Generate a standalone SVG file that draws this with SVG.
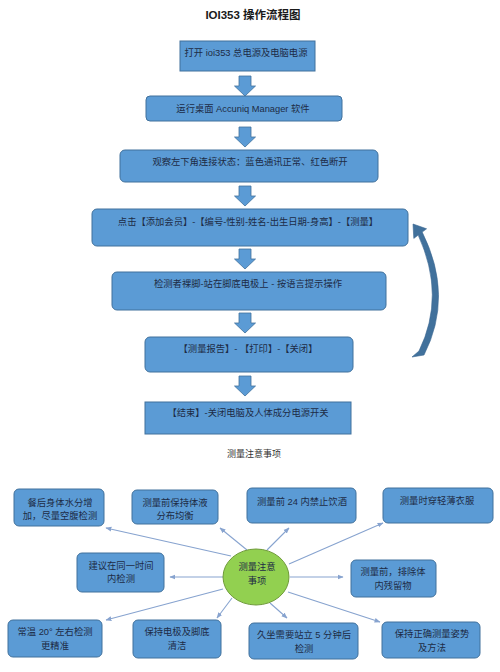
<svg xmlns="http://www.w3.org/2000/svg" width="500" height="672" viewBox="0 0 500 672">
<defs>
<style>
.box{fill:#5b9bd5;stroke:#41719c;stroke-width:1}
.t{font-family:"Liberation Sans","Noto Sans CJK SC",sans-serif;font-size:9.3px;fill:#1d2b45;text-anchor:middle}
.barrow{fill:#5b9bd5;stroke:#41719c;stroke-width:0.8}
.con{stroke:#87a3cf;stroke-width:1.1;fill:none;marker-end:url(#ah)}
</style>
<marker id="ah" viewBox="0 0 10 10" refX="9" refY="5" markerWidth="6" markerHeight="6" orient="auto" markerUnits="userSpaceOnUse">
<path d="M0,1 L10,5 L0,9 z" fill="#87a3cf"/>
</marker>
<path id="dn" d="M-6,0 H6 V10 H10.5 L0,20 L-10.5,10 H-6 Z"/>
</defs>
<rect width="500" height="672" fill="#ffffff"/>
<text x="253" y="19" style="font-family:'Liberation Sans','Noto Sans CJK SC',sans-serif;font-size:11.5px;font-weight:bold;fill:#1a1a1a" text-anchor="middle">IOI353  操作流程图</text>

<g id="flow-arrows">
<use href="#dn" class="barrow" x="245" y="76"/>
<use href="#dn" class="barrow" x="245" y="127"/>
<use href="#dn" class="barrow" x="245" y="186"/>
<use href="#dn" class="barrow" x="245" y="249"/>
<use href="#dn" class="barrow" x="245" y="313"/>
<use href="#dn" class="barrow" x="245" y="376"/>
</g>

<g id="n1"><rect class="box" x="180" y="41" width="135" height="30"/><text class="t" x="246" y="56">打开 ioi353 总电源及电脑电源</text></g>
<g id="n2"><rect class="box" x="146" y="96" width="196" height="25" rx="4"/><text class="t" x="243" y="112">运行桌面 Accuniq Manager 软件</text></g>
<g id="n3"><rect class="box" x="120" y="150" width="258" height="32" rx="5"/><text class="t" x="250" y="165">观察左下角连接状态：蓝色通讯正常、红色断开</text></g>
<g id="n4"><rect class="box" x="92" y="209" width="316" height="37" rx="5"/><text class="t" x="248" y="225">点击【添加会员】-【编号-性别-姓名-出生日期-身高】-【测量】</text></g>
<g id="n5"><rect class="box" x="112" y="272" width="274" height="38" rx="5"/><text class="t" x="248" y="287">检测者裸脚-站在脚底电极上 - 按语言提示操作</text></g>
<g id="n6"><rect class="box" x="145" y="337" width="208" height="35" rx="5"/><text class="t" x="248" y="352">【测量报告】- 【打印】-【关闭】</text></g>
<g id="n7"><rect class="box" x="145" y="402" width="206" height="32"/><text class="t" x="248" y="416">【结束】-关闭电脑及人体成分电源开关</text></g>

<g id="loop-arrow">
<path d="M412,357 L419,351 Q446,296 418.2,235.1 L413.8,238.4 L413,224 L426.6,228.8 L422.2,232.1 Q454,296 424,355 Z" fill="#41719c" stroke="#3a6690" stroke-width="0.6" stroke-linejoin="round"/>
</g>

<text x="254" y="457" style="font-family:'Liberation Sans','Noto Sans CJK SC',sans-serif;font-size:9px;fill:#333333" text-anchor="middle">测量注意事项</text>

<g id="connectors">
<line class="con" x1="231" y1="556" x2="106" y2="528"/>
<line class="con" x1="247" y1="550" x2="220" y2="528"/>
<line class="con" x1="267" y1="550" x2="289" y2="528"/>
<line class="con" x1="289" y1="564" x2="383" y2="523"/>
<line class="con" x1="223" y1="577" x2="170" y2="577"/>
<line class="con" x1="290" y1="577" x2="343" y2="577"/>
<line class="con" x1="223" y1="589" x2="106" y2="620"/>
<line class="con" x1="232" y1="598" x2="217" y2="618"/>
<line class="con" x1="270" y1="603" x2="287" y2="618"/>
<line class="con" x1="288" y1="592" x2="380" y2="622"/>
</g>

<g id="center"><ellipse cx="256" cy="577" rx="33" ry="28" fill="#92d050" stroke="#6f9a3a" stroke-width="1"/><text class="t" x="257" y="570">测量注意</text><text class="t" x="257" y="584">事项</text></g>

<g id="bA"><rect class="box" x="14" y="489" width="90" height="37" rx="5"/><text class="t" x="60" y="506">餐后身体水分增</text><text class="t" x="60" y="519">加，尽量空腹检测</text></g>
<g id="bB"><rect class="box" x="132" y="490" width="86" height="34" rx="5"/><text class="t" x="175" y="506">测量前保持体液</text><text class="t" x="175" y="519">分布均衡</text></g>
<g id="bC"><rect class="box" x="247" y="488" width="109" height="35" rx="5"/><text class="t" x="302" y="505">测量前 24 内禁止饮酒</text></g>
<g id="bD"><rect class="box" x="383" y="488" width="110" height="35" rx="5"/><text class="t" x="437" y="504">测量时穿轻薄衣服</text></g>
<g id="bE"><rect class="box" x="77" y="553" width="87" height="39" rx="5"/><text class="t" x="121" y="569">建议在同一时间</text><text class="t" x="121" y="582">内检测</text></g>
<g id="bF"><rect class="box" x="351" y="560" width="85" height="37" rx="5"/><text class="t" x="393" y="575">测量前，排除体</text><text class="t" x="393" y="589">内残留物</text></g>
<g id="bG"><rect class="box" x="8" y="620" width="94" height="37" rx="5"/><text class="t" x="55" y="635">常温 20° 左右检测</text><text class="t" x="55" y="649">更精准</text></g>
<g id="bH"><rect class="box" x="133" y="620" width="88" height="38" rx="5"/><text class="t" x="177" y="635">保持电极及脚底</text><text class="t" x="177" y="649">清洁</text></g>
<g id="bI"><rect class="box" x="249" y="623" width="109" height="36" rx="5"/><text class="t" x="304" y="638">久坐需要站立 5 分钟后</text><text class="t" x="304" y="652">检测</text></g>
<g id="bJ"><rect class="box" x="382" y="622" width="98" height="36" rx="5"/><text class="t" x="432" y="637">保持正确测量姿势</text><text class="t" x="432" y="651">及方法</text></g>
</svg>
